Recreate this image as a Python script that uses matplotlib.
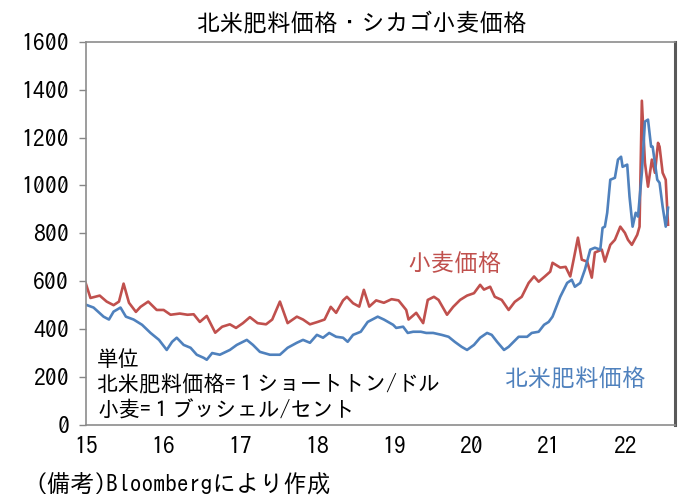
import matplotlib
matplotlib.use("Agg")
import matplotlib.pyplot as plt

# time in years (15 = Jan 2015)
wheat_t = [15.00, 15.06, 15.18, 15.27, 15.36, 15.43, 15.49, 15.56, 15.65, 15.71,
           15.81, 15.92, 16.01, 16.10, 16.22, 16.32, 16.40, 16.48, 16.57, 16.68,
           16.77, 16.87, 16.95, 17.04, 17.13, 17.23, 17.34, 17.42, 17.52, 17.57,
           17.62, 17.74, 17.82, 17.91, 18.01, 18.10, 18.18, 18.25, 18.34, 18.39,
           18.47, 18.55, 18.61, 18.68, 18.77, 18.87, 18.97, 19.06, 19.16, 19.19,
           19.29, 19.38, 19.44, 19.52, 19.58, 19.69, 19.77, 19.86, 19.95, 20.04,
           20.12, 20.17, 20.25, 20.31, 20.40, 20.49, 20.57, 20.66, 20.75, 20.82,
           20.88, 20.96, 21.03, 21.06, 21.16, 21.23, 21.29, 21.34, 21.39, 21.44,
           21.51, 21.57, 21.61, 21.70, 21.74, 21.81, 21.87, 21.94, 22.00, 22.04,
           22.09, 22.16, 22.19, 22.22, 22.26, 22.30, 22.35, 22.39, 22.43, 22.45,
           22.49, 22.53, 22.56]
wheat = [590, 530, 540, 515, 500, 515, 590, 510, 472, 493,
         515, 480, 480, 460, 465, 460, 462, 430, 455, 385,
         410, 420, 405, 425, 450, 425, 420, 440, 515, 470,
         425, 452, 440, 420, 430, 440, 493, 468, 520, 535,
         508, 494, 564, 494, 520, 510, 525, 520, 480, 440,
         468, 425, 522, 535, 522, 460, 493, 522, 540, 550,
         585, 565, 577, 535, 522, 480, 514, 535, 593, 620,
         598, 620, 640, 677, 657, 660, 620, 700, 782, 690,
         682, 615, 720, 732, 682, 752, 773, 828, 802, 773,
         752, 794, 828, 1354, 1095, 995, 1108, 1053, 1178, 1162,
         1053, 1024, 836]

fert_t = [15.00, 15.10, 15.23, 15.30, 15.36, 15.45, 15.52, 15.62, 15.73, 15.84,
          15.95, 16.05, 16.12, 16.18, 16.27, 16.36, 16.44, 16.53, 16.57, 16.64,
          16.74, 16.87, 16.96, 17.09, 17.17, 17.26, 17.39, 17.52, 17.62, 17.74,
          17.82, 17.91, 18.00, 18.08, 18.16, 18.25, 18.34, 18.40, 18.47, 18.57,
          18.66, 18.79, 18.87, 18.99, 19.03, 19.12, 19.18, 19.25, 19.35, 19.42,
          19.51, 19.62, 19.71, 19.79, 19.88, 19.95, 20.04, 20.12, 20.21, 20.27,
          20.34, 20.43, 20.49, 20.62, 20.73, 20.79, 20.88, 20.95, 21.01, 21.06,
          21.16, 21.25, 21.31, 21.35, 21.42, 21.48, 21.55, 21.61, 21.68, 21.71,
          21.74, 21.77, 21.81, 21.87, 21.91, 21.95, 21.97, 22.03, 22.06, 22.10,
          22.14, 22.17, 22.22, 22.26, 22.30, 22.34, 22.36, 22.42, 22.45, 22.49,
          22.53, 22.56]
fert = [502, 490, 452, 440, 473, 490, 452, 440, 418, 384,
        355, 313, 347, 364, 334, 322, 293, 280, 272, 300,
        293, 313, 334, 355, 334, 305, 293, 293, 322, 343,
        355, 343, 376, 364, 384, 368, 364, 347, 376, 389,
        430, 452, 440, 418, 405, 410, 384, 389, 389, 384,
        384, 376, 368, 347, 326, 313, 334, 364, 384, 376,
        347, 313, 326, 368, 368, 384, 389, 418, 430, 452,
        535, 593, 606, 577, 593, 648, 732, 740, 732, 823,
        828, 886, 1024, 1032, 1108, 1120, 1078, 1087, 953, 828,
        886, 870, 1053, 1267, 1275, 1162, 1162, 1024, 1011, 911,
        828, 907]

year_ticks = [15, 16, 17, 18, 19, 20, 21, 22]
year_labels = ["15", "16", "17", "18", "19", "20", "21", "22"]

RED = "#C0504D"
BLUE = "#4F81BD"

# IPAGothic is close to the MS Gothic look of the original
plt.rcParams["font.family"] = ["IPAGothic", "Noto Sans CJK JP", "DejaVu Sans"]

fig = plt.figure(figsize=(6.98, 5.04), dpi=100)
ax = fig.add_axes([0.123, 0.157, 0.844, 0.760])

ax.plot(wheat_t, wheat, color=RED, lw=1.9)
ax.plot(fert_t, fert, color=BLUE, lw=1.9)

ax.set_xlim(15, 22.65)
ax.set_ylim(0, 1600)
ax.set_yticks(range(0, 1601, 200))
ax.set_xticks(year_ticks)
ax.set_xticklabels(year_labels)
ax.tick_params(labelsize=17)
ax.tick_params(axis="y", length=5, width=1, color="#868686", pad=7)
ax.tick_params(axis="x", length=0, pad=8)

for s in ["top", "left", "bottom"]:
    ax.spines[s].set_color("#8c8c8c")
    ax.spines[s].set_linewidth(1.2)
ax.spines["right"].set_color("#595959")
ax.spines["right"].set_linewidth(2.2)

fig.text(0.519, 0.956, "北米肥料価格・シカゴ小麦価格", ha="center", va="center", fontsize=17)

ax.text(0.545, 0.426, "小麦価格", transform=ax.transAxes, color=RED, fontsize=17, va="center")
ax.text(0.711, 0.123, "北米肥料価格", transform=ax.transAxes, color=BLUE, fontsize=17, va="center")

ax.text(0.019, 0.175, "単位", transform=ax.transAxes, fontsize=15.5, va="center")
ax.text(0.019, 0.110, "北米肥料価格=１ショートトン/ドル", transform=ax.transAxes, fontsize=15.5, va="center")
ax.text(0.019, 0.039, "小麦=１ブッシェル/セント", transform=ax.transAxes, fontsize=15.5, va="center")

fig.text(0.050, 0.042, "(備考)Bloombergにより作成", ha="left", va="center", fontsize=17)

fig.savefig("out.png", dpi=100)
